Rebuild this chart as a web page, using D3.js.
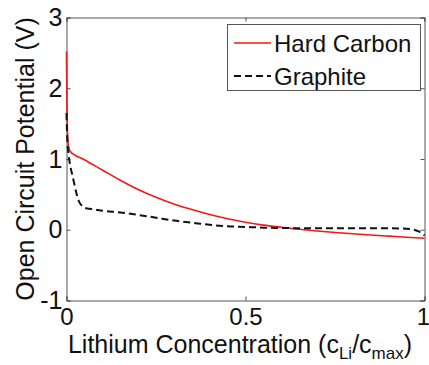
<!DOCTYPE html>
<html>
<head>
<meta charset="utf-8">
<script src="https://cdn.jsdelivr.net/npm/d3@7/dist/d3.min.js"></script>
<style>
  html, body { margin: 0; padding: 0; background: #fff; }
  svg { display: block; font-family: "Liberation Sans", Arial, Helvetica, sans-serif; }
</style>
</head>
<body>
<svg id="chart" width="429" height="365"></svg>
<script>
// ---- data ----
const hardCarbonX = [0, 0.001, 0.003, 0.006, 0.01, 0.05, 0.10, 0.15, 0.20, 0.25, 0.30, 0.35, 0.40, 0.45, 0.50, 0.55, 0.60, 0.65, 0.70, 0.75, 0.80, 0.85, 0.90, 0.95, 1.0];
const hardCarbonY = [2.52, 1.9, 1.35, 1.17, 1.11, 0.99, 0.845, 0.70, 0.57, 0.46, 0.365, 0.285, 0.215, 0.155, 0.105, 0.065, 0.035, 0.008, -0.017, -0.038, -0.057, -0.074, -0.09, -0.105, -0.12];
const graphiteX = [0, 0.002, 0.004, 0.006, 0.01, 0.015, 0.02, 0.027, 0.034, 0.045, 0.058, 0.075, 0.10, 0.15, 0.20, 0.25, 0.30, 0.35, 0.40, 0.45, 0.50, 0.55, 0.60, 0.70, 0.80, 0.90, 0.95, 0.97, 0.99, 1.0];
const graphiteY = [1.65, 1.3, 1.15, 1.05, 0.92, 0.80, 0.69, 0.53, 0.41, 0.33, 0.30, 0.29, 0.27, 0.245, 0.21, 0.17, 0.13, 0.10, 0.07, 0.05, 0.04, 0.03, 0.025, 0.02, 0.02, 0.02, 0.015, 0.0, -0.04, -0.08];
const seriesNames = ["Hard Carbon", "Graphite"];
const xTicks = [0, 0.5, 1];
const xTickLabels = ["0", "0.5", "1"];
const yTicks = [-1, 0, 1, 2, 3];
const yTickLabels = ["-1", "0", "1", "2", "3"];

// ---- layout ----
const svg = d3.select("#chart");
const L = 66.5, R = 424.5, T = 17.5, B = 300.5;
const x = d3.scaleLinear().domain([0, 1]).range([L, R]);
const y = d3.scaleLinear().domain([-1, 3]).range([B, T]);
const axisColor = "#555";
const fs = 25;

const series = [
  { name: seriesNames[0], xs: hardCarbonX, ys: hardCarbonY, color: "#f01818", width: 1.6, dash: null },
  { name: seriesNames[1], xs: graphiteX, ys: graphiteY, color: "#111", width: 2, dash: "7,4" }
];

function styleAxis(g, size) {
  g.selectAll("path.domain").attr("stroke", axisColor).attr("stroke-width", 1);
  g.selectAll(".tick line").attr("stroke", axisColor);
  g.selectAll("text").attr("fill", "#111").style("font-size", size + "px")
    .style("font-family", '"Liberation Sans", Arial, sans-serif');
}
const gx = svg.append("g").attr("transform", `translate(0,${B})`)
  .call(d3.axisBottom(x).tickValues(xTicks).tickSize(-4).tickPadding(7)
    .tickFormat((d, i) => xTickLabels[i]));
styleAxis(gx, 24);
gx.selectAll(".tick text").filter(d => d === 1).attr("dx", -1.5);
const gxt = svg.append("g").attr("transform", `translate(0,${T})`)
  .call(d3.axisTop(x).tickValues(xTicks).tickSize(-4).tickFormat(""));
styleAxis(gxt, fs);
const gy = svg.append("g").attr("transform", `translate(${L},0)`)
  .call(d3.axisLeft(y).tickValues(yTicks).tickSize(-4).tickPadding(4)
    .tickFormat((d, i) => yTickLabels[i]));
styleAxis(gy, fs);
const gyr = svg.append("g").attr("transform", `translate(${R},0)`)
  .call(d3.axisRight(y).tickValues(yTicks).tickSize(-4).tickFormat(""));
styleAxis(gyr, fs);

// lines
const line = d3.line().x(d => x(d[0])).y(d => y(d[1])).curve(d3.curveMonotoneX);
series.forEach(s => {
  const pts = s.xs.map((v, i) => [v, s.ys[i]]);
  svg.append("path").datum(pts)
    .attr("d", line)
    .attr("fill", "none")
    .attr("stroke", s.color)
    .attr("stroke-width", s.width)
    .attr("stroke-dasharray", s.dash)
    .attr("stroke-linejoin", "round");
});

// legend
const lg = svg.append("g");
lg.append("rect").attr("x", 227.5).attr("y", 24.5).attr("width", 193).attr("height", 66)
  .attr("fill", "#fff").attr("stroke", axisColor).attr("stroke-width", 1);
series.forEach((s, i) => {
  const cy = 43 + i * 33;
  lg.append("line").attr("x1", 234).attr("x2", 271).attr("y1", cy).attr("y2", cy)
    .attr("stroke", s.color).attr("stroke-width", s.width).attr("stroke-dasharray", s.dash);
  lg.append("text").attr("x", 274).attr("y", cy + 8.5).text(s.name)
    .style("font-size", (fs - 1) + "px").attr("fill", "#111");
});

// axis labels
svg.append("text")
  .attr("transform", `translate(34,${(T + B) / 2}) rotate(-90)`)
  .attr("text-anchor", "middle")
  .style("font-size", fs + "px").attr("fill", "#111")
  .text("Open Circuit Potential (V)");

const xl = svg.append("text")
  .attr("x", 240).attr("y", 353)
  .attr("text-anchor", "middle")
  .style("font-size", "25px").attr("fill", "#111");
xl.append("tspan").text("Lithium Concentration (c");
xl.append("tspan").attr("dy", 6).style("font-size", "17px").text("Li");
xl.append("tspan").attr("dy", -6).text("/c");
xl.append("tspan").attr("dy", 6).style("font-size", "17px").text("max");
xl.append("tspan").attr("dy", -6).text(")");
</script>
</body>
</html>
